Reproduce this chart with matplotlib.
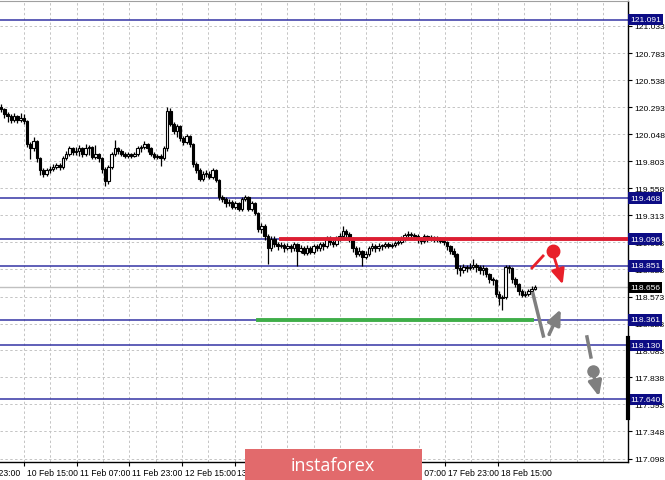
import matplotlib
matplotlib.use("Agg")
import matplotlib.pyplot as plt
from matplotlib.patches import Rectangle
import matplotlib.transforms as mtransforms

plt.rcParams["font.family"] = ["Liberation Sans", "DejaVu Sans"]

# hourly candles (first open, then closes / highs / lows)
first_open = 120.30
closes = [120.28, 120.23, 120.21, 120.18, 120.21, 120.18, 120.20, 120.17, 119.96, 119.92,
          119.99, 119.83, 119.72, 119.69, 119.72, 119.73, 119.75, 119.77, 119.75, 119.83,
          119.87, 119.92, 119.89, 119.90, 119.92, 119.87, 119.92, 119.93, 119.84, 119.87,
          119.83, 119.73, 119.62, 119.75, 119.87, 119.92, 119.90, 119.87, 119.85, 119.87,
          119.85, 119.87, 119.92, 119.93, 119.96, 119.92, 119.87, 119.84, 119.85, 119.83,
          119.92, 120.26, 120.14, 120.08, 120.12, 120.01, 119.98, 120.03, 119.96, 119.78,
          119.72, 119.64, 119.69, 119.69, 119.66, 119.72, 119.63, 119.48, 119.46, 119.42,
          119.43, 119.39, 119.42, 119.37, 119.46, 119.48, 119.37, 119.42, 119.33, 119.19,
          119.21, 119.12, 119.01, 119.10, 119.05, 119.03, 119.04, 119.01, 119.03, 119.01,
          119.05, 118.99, 119.01, 118.97, 119.01, 118.98, 119.03, 119.01, 119.05, 119.03,
          119.10, 119.07, 119.05, 119.10, 119.12, 119.17, 119.14, 119.10, 119.01, 118.96,
          118.99, 118.93, 118.96, 119.01, 119.03, 119.01, 119.03, 119.03, 119.05, 119.03,
          119.04, 119.06, 119.07, 119.10, 119.13, 119.14, 119.13, 119.12, 119.10, 119.08,
          119.12, 119.10, 119.11, 119.09, 119.10, 119.08, 119.07, 119.03, 118.99, 118.96,
          118.83, 118.81, 118.84, 118.83, 118.84, 118.86, 118.84, 118.81, 118.83, 118.78,
          118.73, 118.72, 118.60, 118.56, 118.57, 118.84, 118.83, 118.73, 118.69, 118.62,
          118.59, 118.60, 118.62, 118.64, 118.656]
highs = [120.32, 120.29, 120.25, 120.23, 120.24, 120.22, 120.24, 120.23, 120.18, 119.98,
         120.02, 120.00, 119.84, 119.74, 119.74, 119.76, 119.78, 119.79, 119.79, 119.85,
         119.90, 119.94, 119.93, 119.93, 119.95, 119.93, 119.96, 119.95, 119.94, 119.95,
         119.88, 119.84, 119.75, 119.77, 119.89, 120.00, 119.93, 119.91, 119.89, 119.89,
         119.88, 119.89, 119.94, 119.95, 119.99, 119.97, 119.93, 119.89, 119.87, 119.87,
         119.94, 120.30, 120.29, 120.16, 120.14, 120.13, 120.03, 120.05, 120.04, 119.97,
         119.80, 119.74, 119.71, 119.72, 119.71, 119.74, 119.73, 119.64, 119.50, 119.48,
         119.46, 119.45, 119.44, 119.43, 119.48, 119.50, 119.49, 119.44, 119.43, 119.34,
         119.24, 119.23, 119.14, 119.12, 119.12, 119.07, 119.07, 119.06, 119.06, 119.05,
         119.07, 119.06, 119.04, 119.03, 119.04, 119.03, 119.05, 119.05, 119.07, 119.07,
         119.12, 119.12, 119.09, 119.12, 119.15, 119.21, 119.19, 119.16, 119.11, 119.03,
         119.02, 119.00, 118.99, 119.03, 119.06, 119.05, 119.06, 119.05, 119.07, 119.07,
         119.06, 119.08, 119.09, 119.12, 119.15, 119.17, 119.16, 119.15, 119.14, 119.11,
         119.14, 119.13, 119.13, 119.12, 119.12, 119.11, 119.10, 119.08, 119.04, 119.01,
         118.97, 118.86, 118.87, 118.86, 118.88, 118.91, 118.88, 118.86, 118.86, 118.84,
         118.79, 118.75, 118.73, 118.62, 118.59, 118.86, 118.86, 118.84, 118.75, 118.70,
         118.64, 118.62, 118.64, 118.67, 118.68]
lows = [120.25, 120.20, 120.16, 120.15, 120.16, 120.15, 120.16, 120.14, 119.93, 119.82,
        119.90, 119.80, 119.68, 119.66, 119.67, 119.70, 119.71, 119.73, 119.72, 119.73,
        119.81, 119.85, 119.86, 119.86, 119.85, 119.84, 119.85, 119.86, 119.82, 119.82,
        119.80, 119.70, 119.58, 119.60, 119.73, 119.85, 119.87, 119.85, 119.83, 119.83,
        119.83, 119.84, 119.85, 119.89, 119.91, 119.89, 119.85, 119.82, 119.82, 119.76,
        119.81, 119.90, 120.12, 120.05, 120.02, 119.99, 119.95, 119.96, 119.93, 119.75,
        119.70, 119.62, 119.62, 119.66, 119.64, 119.64, 119.61, 119.45, 119.43, 119.39,
        119.40, 119.37, 119.37, 119.35, 119.35, 119.44, 119.35, 119.35, 119.31, 119.16,
        119.15, 119.09, 118.87, 118.99, 119.02, 119.00, 119.01, 118.98, 119.00, 118.98,
        118.99, 118.85, 118.97, 118.95, 118.95, 118.96, 118.96, 118.99, 118.99, 119.00,
        119.01, 119.04, 119.02, 119.03, 119.08, 119.10, 119.11, 119.07, 118.98, 118.93,
        118.94, 118.85, 118.91, 118.94, 118.99, 118.98, 118.99, 119.00, 119.01, 119.01,
        119.01, 119.02, 119.04, 119.05, 119.08, 119.11, 119.10, 119.09, 119.06, 119.05,
        119.06, 119.07, 119.08, 119.07, 119.07, 119.06, 119.04, 119.00, 118.96, 118.93,
        118.78, 118.76, 118.79, 118.80, 118.81, 118.82, 118.80, 118.78, 118.77, 118.75,
        118.70, 118.68, 118.57, 118.50, 118.45, 118.55, 118.79, 118.70, 118.66, 118.59,
        118.57, 118.57, 118.58, 118.60, 118.63]
opens = [first_open] + closes[:-1]

price_ticks = [121.033, 120.783, 120.538, 120.293, 120.048, 119.803, 119.558, 119.313,
               119.068, 118.823, 118.573, 118.328, 118.083, 117.838, 117.593, 117.348, 117.098]
levels = [121.091, 119.468, 119.096, 118.851, 118.361, 118.130, 117.640]
last_price = 118.656
red_level = 119.096
green_level = 118.361

time_labels = ["9 Feb 23:00", "10 Feb 15:00", "11 Feb 07:00", "11 Feb 23:00", "12 Feb 15:00",
               "13 Feb 07:00", "13 Feb 23:00", "14 Feb 15:00", "17 Feb 07:00",
               "17 Feb 23:00", "18 Feb 15:00"]
first_label_bar = -9.11   # bar index of first time label
label_step = 16.17        # bars between labels

fig = plt.figure(figsize=(6.65, 4.81), dpi=100)
ax = fig.add_axes([0, 18 / 481, 628 / 665, 461 / 481])

ax.set_xlim(-0.31, 192.6)
ax.set_ylim(117.069, 121.260)

# grid
for k in range(2 * len(time_labels) + 4):
    gx = first_label_bar + k * label_step / 2
    ax.axvline(gx, color="#c4c4c4", lw=0.7, ls=(0, (2.5, 2.5)), zorder=0)
for p in price_ticks:
    ax.axhline(p, color="#c4c4c4", lw=0.7, ls=(0, (2.5, 2.5)), zorder=0)

# level lines
for lv in levels:
    ax.axhline(lv, color="#3434a4", lw=1.1, zorder=1)
ax.axhline(last_price, color="#c0c0c0", lw=1.0, zorder=1)

# candles
idx = list(range(len(closes)))
ax.vlines(idx, lows, highs, color="black", lw=0.9, zorder=3)
for i in idx:
    o, c = opens[i], closes[i]
    bull = c >= o
    h = abs(c - o)
    if h < 0.008:
        h = 0.008
    ax.bar(i, h, bottom=min(o, c), width=0.78,
           color="white" if bull else "black", edgecolor="black", lw=0.8, zorder=4)

# red resistance, green support
ax.plot([86.0, 192.6], [red_level, red_level], color="#dc1e32", lw=2.8, zorder=5)
ax.plot([78.8, 163.0], [green_level, green_level], color="#3fae49", lw=2.8, zorder=5)

# red scenario
ax.plot([163.1, 166.5], [118.833, 118.942], color="#e8202a", lw=2, zorder=6)
ax.plot(169.5, 118.99, "o", color="#e8202a", ms=9, zorder=6)
ax.annotate("", xy=(172.8, 118.66), xytext=(169.5, 118.97),
            arrowprops=dict(arrowstyle="-|>,head_length=0.9,head_width=0.4",
                            color="#e8202a", lw=2), zorder=6)

# gray scenario
ax.plot([163.4, 166.6], [118.60, 118.215], color="#7f7f7f", lw=2.5, zorder=6)
ax.annotate("", xy=(172.3, 118.48), xytext=(168.0, 118.206),
            arrowprops=dict(arrowstyle="-|>,head_length=0.9,head_width=0.4",
                            color="#7f7f7f", lw=2.5), zorder=6)
ax.plot([180.0, 181.2], [118.206, 118.024], color="#7f7f7f", lw=2.5, zorder=6)
ax.plot(181.8, 117.897, "o", color="#7f7f7f", ms=8, zorder=6)
ax.annotate("", xy=(183.9, 117.64), xytext=(181.8, 117.89),
            arrowprops=dict(arrowstyle="-|>,head_length=0.9,head_width=0.4",
                            color="#7f7f7f", lw=2.5), zorder=6)

# axes styling
ax.spines["left"].set_visible(False)
ax.spines["top"].set_color("#a0a0a0")
ax.spines["right"].set_linewidth(1.0)
ax.spines["bottom"].set_linewidth(1.0)
ax.yaxis.tick_right()
ax.set_yticks(price_ticks)
ax.set_yticklabels([f"{p:.3f}" for p in price_ticks])
ax.tick_params(axis="y", length=3, width=0.8, pad=1.5, labelsize=6.1, direction="out")

tick_pos = [first_label_bar + k * label_step for k in range(len(time_labels))]
ax.set_xticks(tick_pos[1:])
ax.set_xticklabels([])
ax.tick_params(axis="x", length=3, width=0.8, direction="out")
for pos, lab in zip(tick_pos, time_labels):
    ax.text(pos + 0.9, -0.014, lab, transform=ax.get_xaxis_transform(), ha="left",
            va="top", fontsize=6.2, clip_on=False)

# right side level tags
tr = mtransforms.blended_transform_factory(ax.transAxes, ax.transData)
for lv in levels:
    ax.text(1.003, lv, f"{lv:.3f}", transform=tr, ha="left", va="center", fontsize=6.1,
            color="white", clip_on=False, zorder=10,
            bbox=dict(boxstyle="square,pad=0.25", fc="#0c0c84", ec="none"))
ax.text(1.003, last_price, f"{last_price:.3f}", transform=tr, ha="left", va="center",
        fontsize=6.1, color="white", clip_on=False, zorder=10,
        bbox=dict(boxstyle="square,pad=0.25", fc="black", ec="none"))
ax.plot([1.0, 1.0], [118.20, 117.47], transform=tr, color="black", lw=3,
        clip_on=False, zorder=11)

# watermark
fig.add_artist(Rectangle((245 / 665, 0), 177 / 665, 31 / 481, transform=fig.transFigure,
                         fc="#e26a6c", ec="none", zorder=5))
fig.text(333 / 665, 15 / 481, "instaforex", ha="center", va="center", color="white",
         fontsize=13, family="Open Sans", zorder=6)

fig.savefig("out.png", dpi=100)
